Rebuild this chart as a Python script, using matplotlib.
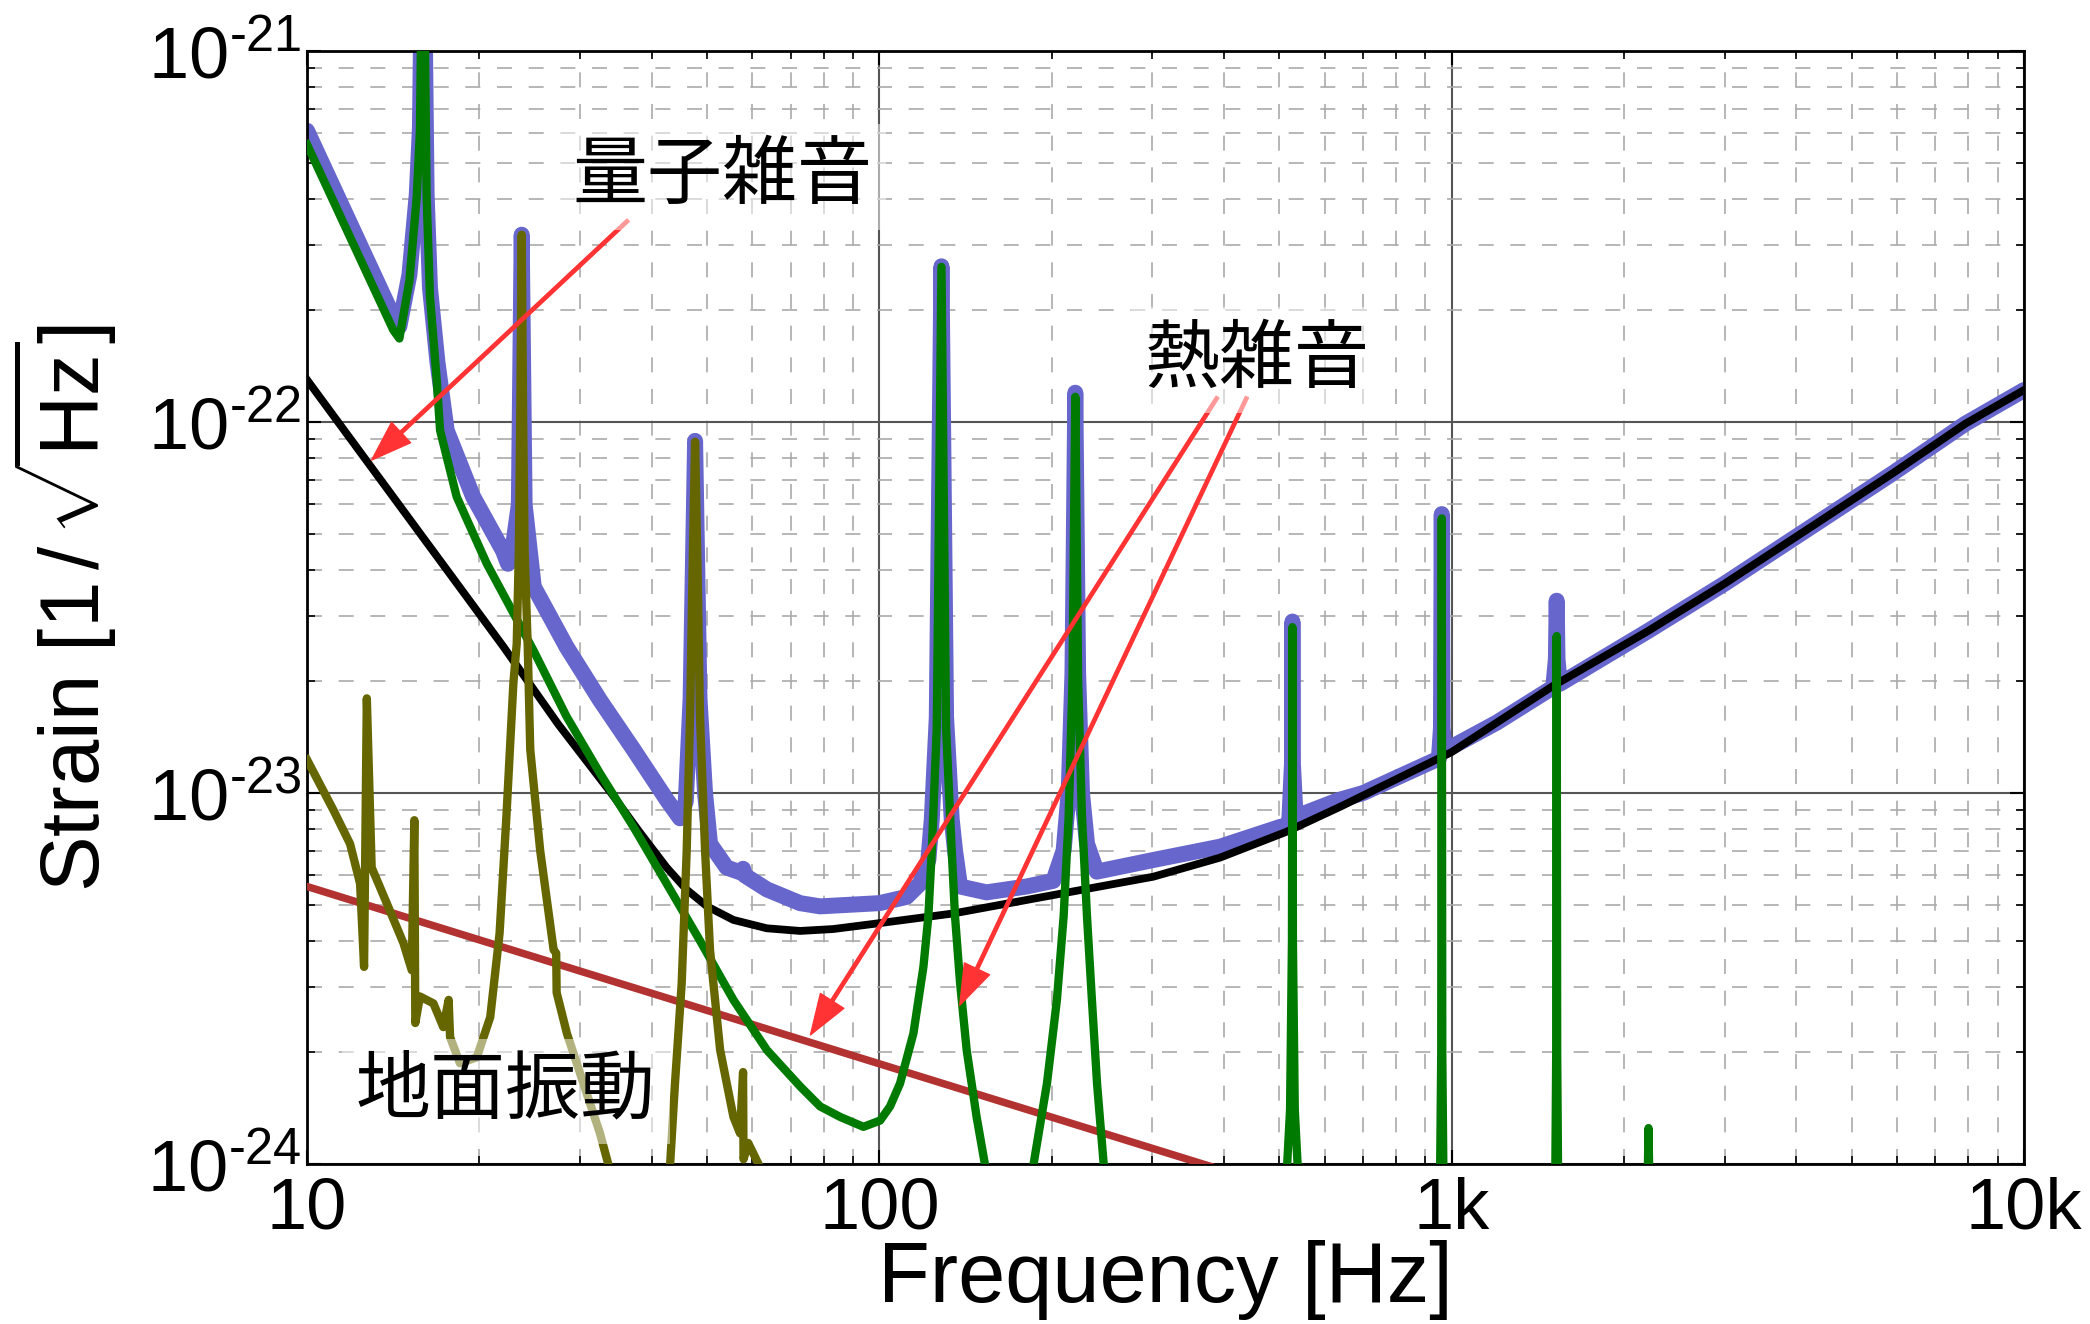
import numpy as np
import matplotlib
matplotlib.use("Agg")
import matplotlib.pyplot as plt
from matplotlib.ticker import FixedLocator, FixedFormatter, LogLocator, NullFormatter

# ------------------------------
# 1. Data
# ------------------------------
# quantum noise (black)
quantum_f = [10, 13, 22, 27.5, 34, 38, 42.5, 46, 50, 55.6, 63.6, 72.7, 83, 100, 135, 200,
             301, 394, 515, 640, 1000, 1500, 2200, 3000, 4000, 5900, 7900, 10000]
quantum_h = [1.30e-22, 7.5e-23, 2.49e-23, 1.53e-23, 1.0e-23, 7.9e-24, 6.3e-24, 5.5e-24,
             4.95e-24, 4.55e-24, 4.32e-24, 4.25e-24, 4.3e-24, 4.46e-24, 4.74e-24, 5.3e-24,
             5.95e-24, 6.7e-24, 7.87e-24, 9.2e-24, 1.29e-23, 1.94e-23, 2.73e-23, 3.67e-23,
             4.91e-23, 7.28e-23, 9.9e-23, 1.22e-22]

# thermal noise (green)
thermal_f = [10, 14.15, 14.5, 15.1, 15.55, 15.75, 15.95, 16.18, 16.4, 16.85, 17.08, 18.26,
             20.6, 24.85, 28.4, 32.5, 37.2, 42.5, 48.6, 55.6, 63.6, 72.7, 78.8, 85.4, 93.8,
             100.3, 104.4, 108.7, 114.7, 119.4, 121.8, 123.5, 126.0, 128.4, 130.8, 133.8,
             135.6, 138.4, 142.1, 147.9, 152.9, 170, 186, 196.3, 204.3, 209.9, 214.2, 217.5,
             220.0, 222.5, 226.0, 230.6, 235.2, 240.1, 246.6, 370, 505, 516, 522, 526, 527,
             528, 532, 538, 550, 800, 945, 955, 959, 961, 963, 967, 980, 1300, 1500, 1518,
             1523, 1526, 1529, 1534, 1550, 2190, 2203, 2208, 2213, 2230, 10000]
thermal_h = [5.6e-22, 1.77e-22, 1.68e-22, 2.41e-22, 4.05e-22, 6.1e-22, 3e-21, 4.05e-22,
             2.18e-22, 1.3e-22, 9.5e-23, 6.29e-23, 4.16e-23, 2.43e-23, 1.61e-23, 1.13e-23,
             8.1e-24, 5.7e-24, 4.0e-24, 2.77e-24, 2.03e-24, 1.62e-24, 1.43e-24, 1.34e-24,
             1.26e-24, 1.31e-24, 1.43e-24, 1.65e-24, 2.25e-24, 3.4e-24, 4.65e-24, 7.0e-24,
             1.5e-23, 2.62e-22, 1.5e-23, 7.0e-24, 4.65e-24, 3.07e-24, 2.03e-24, 1.34e-24,
             1.0e-24, 5e-25, 1.0e-24, 1.65e-24, 2.77e-24, 4.65e-24, 8.6e-24, 2e-23, 1.17e-22,
             2e-23, 8.6e-24, 4.65e-24, 2.77e-24, 1.65e-24, 1.0e-24, 3e-25, 6e-25, 1.0e-24,
             1.4e-24, 4e-24, 2.8e-23, 4e-24, 1.4e-24, 1.0e-24, 6e-25, 3e-25, 6e-25, 1.0e-24,
             2e-24, 5.5e-23, 2e-24, 1.0e-24, 6e-25, 3e-25, 6e-25, 1.0e-24, 2e-24, 2.65e-23,
             2e-24, 1.0e-24, 6e-25, 6e-25, 1.0e-24, 1.25e-24, 1.0e-24, 6e-25, 1e-25]

# seismic noise (olive)
seismic_f = [10.0, 11.12, 11.89, 12.38, 12.58, 12.72, 12.97, 13.78, 14.74, 15.24, 15.40,
             15.46, 15.75, 16.63, 17.3, 17.68, 17.78, 18.5, 19.8, 20.9, 21.7, 22.3, 22.94,
             23.25, 23.45, 23.58, 23.72, 23.86, 24.0, 24.3, 24.55, 25.55, 26.97, 27.25, 27.3,
             28.45, 30.4, 32.5, 33.6, 38, 43.1, 43.95, 45.15, 46.07, 46.7, 47.1, 47.65, 48.2,
             48.6, 49.6, 50.6, 52.7, 55.6, 57.1, 57.8, 57.9, 59.0, 61.5, 80]
seismic_h = [1.23e-23, 9.0e-24, 7.3e-24, 5.7e-24, 3.4e-24, 1.80e-23, 6.3e-24, 5.05e-24,
             3.94e-24, 3.33e-24, 8.45e-24, 2.4e-24, 2.83e-24, 2.71e-24, 2.34e-24, 2.77e-24,
             2.2e-24, 1.87e-24, 1.94e-24, 2.49e-24, 4.19e-24, 8.6e-24, 1.98e-23, 2.53e-23,
             4.5e-23, 1e-22, 3.2e-22, 1e-22, 4.5e-23, 2.5e-23, 1.31e-23, 7.0e-24, 3.78e-24,
             3.7e-24, 2.9e-24, 2.25e-24, 1.65e-24, 1.21e-24, 1.0e-24, 5e-25, 1.0e-24,
             1.65e-24, 3.07e-24, 7.0e-24, 1.61e-23, 3.5e-23, 8.85e-23, 3.5e-23, 1.61e-23,
             7.0e-24, 3.78e-24, 2.03e-24, 1.34e-24, 1.21e-24, 1.77e-24, 1.03e-24, 1.14e-24,
             1.0e-24, 3e-25]

# straight red line
red_f = [10, 1000]
red_h = [5.6e-24, 6.2e-25]

# total noise (blue)
total_f = [10, 14.2, 14.5, 15.1, 15.55, 15.75, 15.95, 16.18, 16.4, 16.9, 17.54, 19.5, 22.0,
           22.45, 22.8, 23.45, 23.72, 24.0, 24.9, 28.4, 32.5, 37.2, 42.5, 44.85, 45.9, 46.8,
           47.65, 48.5, 49.6, 50.6, 54.1, 57.4, 57.8, 58.2, 63.6, 72.7, 78.8, 100, 111.6,
           117.8, 121.8, 123.5, 126.0, 128.4, 130.8, 133.8, 135.6, 138.4, 153.9, 180.9, 201.4,
           209.9, 214.2, 217.5, 220.0, 222.5, 226.0, 230.6, 239.8, 301, 394, 501, 520, 526,
           527, 528, 534, 551, 638, 700, 950, 958, 961, 964, 972, 1200, 1505, 1521, 1526,
           1531, 1545, 2200, 3000, 4000, 5900, 7900, 10000]
total_h = [6.1e-22, 1.9e-22, 1.81e-22, 2.5e-22, 4.1e-22, 6.2e-22, 3e-21, 4.1e-22, 2.3e-22,
           1.45e-22, 9.5e-23, 6.3e-23, 4.5e-23, 4.15e-23, 4.4e-23, 6e-23, 3.2e-22, 6e-23,
           3.6e-23, 2.48e-23, 1.78e-23, 1.31e-23, 9.6e-24, 8.55e-24, 9.5e-24, 1.8e-23, 8.9e-23,
           1.8e-23, 1.0e-23, 7.3e-24, 6.3e-24, 6.1e-24, 6.25e-24, 6.0e-24, 5.5e-24, 5.05e-24,
           4.95e-24, 5.05e-24, 5.25e-24, 5.7e-24, 6.6e-24, 8.5e-24, 1.6e-23, 2.63e-22, 1.6e-23,
           8.5e-24, 7.0e-24, 5.6e-24, 5.4e-24, 5.6e-24, 5.8e-24, 7.0e-24, 1.0e-23, 2.1e-23,
           1.2e-22, 2.1e-23, 1.0e-23, 7.3e-24, 6.14e-24, 6.6e-24, 7.17e-24, 8.1e-24, 8.2e-24,
           1.2e-23, 2.9e-23, 1.2e-23, 8.5e-24, 8.8e-24, 9.6e-24, 1.0e-23, 1.24e-23, 1.5e-23,
           5.65e-23, 1.5e-23, 1.3e-23, 1.55e-23, 1.93e-23, 2.3e-23, 3.3e-23, 2.3e-23, 1.97e-23,
           2.73e-23, 3.67e-23, 4.91e-23, 7.28e-23, 9.9e-23, 1.22e-22]

# axis ticks
x_ticks = [10, 100, 1000, 10000]
x_tick_labels = ["10", "100", "1k", "10k"]
y_ticks = [1e-24, 1e-23, 1e-22, 1e-21]
y_tick_labels = [r"$10^{\text{-}24}$", r"$10^{\text{-}23}$", r"$10^{\text{-}22}$", r"$10^{\text{-}21}$"]

# labels and arrows (text position, arrow tails and tips in data coords)
label_quantum = ("量子雑音", 53.1, 4.58e-22)
label_thermal = ("熱雑音", 458, 1.47e-22)
label_seismic = ("地面振動", 22.27, 1.57e-24)
arrows = [((36.4, 3.5e-22), (12.97, 7.9e-23)),
          ((389.8, 1.168e-22), (75.8, 2.23e-24)),
          ((438.9, 1.168e-22), (138.2, 2.68e-24))]

# ------------------------------
# 2. Style
# ------------------------------
plt.rcParams['font.family'] = ['Liberation Sans', 'Noto Sans CJK JP', 'DejaVu Sans']
plt.rcParams['mathtext.fontset'] = 'custom'
plt.rcParams['mathtext.rm'] = 'Liberation Sans'
plt.rcParams['mathtext.it'] = 'Liberation Sans:italic'
plt.rcParams['mathtext.bf'] = 'Liberation Sans:bold'

fig = plt.figure(figsize=(20.9, 13.24), dpi=100)
ax = fig.add_axes([0.1469, 0.1208, 0.8215, 0.8406])
ax.set_xscale('log')
ax.set_yscale('log')

# ------------------------------
# 3. Curves
# ------------------------------
ax.plot(total_f, total_h, color='#6666cc', lw=11.5, solid_joinstyle='round',
        solid_capstyle='round', zorder=2)
ax.plot(red_f, red_h, color='#b23232', lw=5.4, zorder=3)
ax.plot(quantum_f, quantum_h, color='black', lw=5.6, zorder=4)
ax.plot(thermal_f, thermal_h, color='#007a00', lw=6.0, solid_joinstyle='round', zorder=5)
ax.plot(seismic_f, seismic_h, color='#666600', lw=6.0, solid_joinstyle='round', zorder=6)

ax.set_xlim(10, 10000)
ax.set_ylim(1e-24, 1e-21)

# ------------------------------
# 4. Axes, ticks and grid
# ------------------------------
ax.xaxis.set_major_locator(FixedLocator(x_ticks))
ax.xaxis.set_major_formatter(FixedFormatter(x_tick_labels))
ax.yaxis.set_major_locator(FixedLocator(y_ticks))
ax.yaxis.set_major_formatter(FixedFormatter(y_tick_labels))
ax.xaxis.set_minor_locator(LogLocator(base=10, subs=np.arange(2, 10), numticks=20))
ax.yaxis.set_minor_locator(LogLocator(base=10, subs=np.arange(2, 10), numticks=20))
ax.xaxis.set_minor_formatter(NullFormatter())
ax.yaxis.set_minor_formatter(NullFormatter())

ax.tick_params(which='both', direction='in', top=True, right=True, colors='black')
ax.tick_params(which='major', length=10, width=1.5, labelsize=52)
ax.tick_params(which='minor', length=6, width=1.2)
ax.tick_params(axis='y', which='major', pad=4)
ax.tick_params(axis='x', which='major', pad=9)

ax.grid(True, which='major', color='#555555', lw=1.5, ls='-')
ax.grid(True, which='minor', color='#aaaaaa', lw=1.2, ls=(0, (9, 10)))
ax.set_axisbelow(True)
for sp in ax.spines.values():
    sp.set_linewidth(2)

ax.set_xlabel("Frequency [Hz]", fontsize=61)
ax.xaxis.set_label_coords(0.5, -0.068)
ax.set_ylabel(r"Strain [$1\,/\,\sqrt{\mathrm{Hz}}$]", fontsize=60)
ax.yaxis.set_label_coords(-0.11, 0.5)

# ------------------------------
# 5. Annotations
# ------------------------------
box = dict(facecolor='white', alpha=0.5, edgecolor='none', pad=10)
for text, fx, fy in [label_quantum, label_thermal, label_seismic]:
    ax.text(fx, fy, text, fontsize=54, family=['Noto Sans CJK JP', 'DejaVu Sans'],
            ha='center', va='center', bbox=box, zorder=9)

for tail, tip in arrows:
    ax.annotate("", xy=tip, xytext=tail,
                arrowprops=dict(facecolor='#ff3333', edgecolor='#ff3333', width=2.4,
                                headwidth=20, headlength=29, shrink=0),
                zorder=8)

fig.savefig("out.png", dpi=100)
